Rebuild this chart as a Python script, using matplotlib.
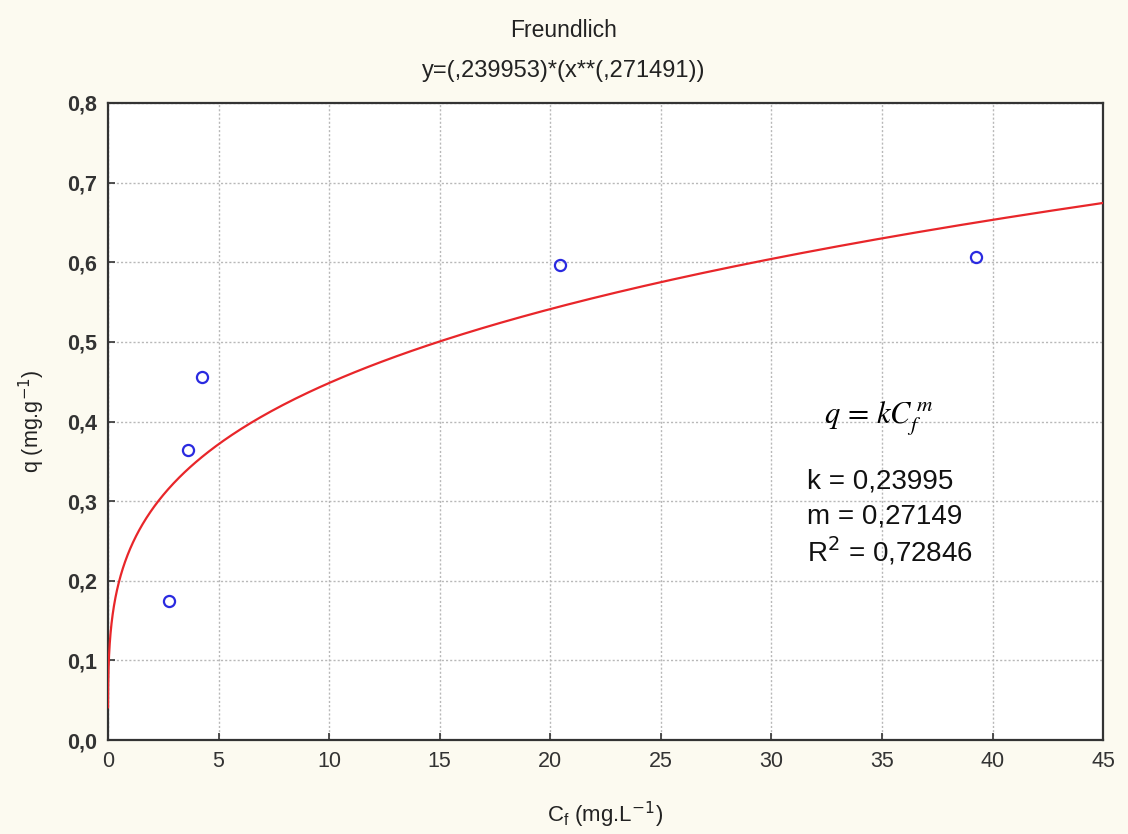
import numpy as np
import matplotlib
matplotlib.use("Agg")
import matplotlib.pyplot as plt
from matplotlib.ticker import FuncFormatter

# Data
cf_points = [2.75, 3.6, 4.25, 20.45, 39.25]
q_points = [0.174, 0.364, 0.456, 0.596, 0.607]
k_fit = 0.239953
m_fit = 0.271491
x_ticks = [0, 5, 10, 15, 20, 25, 30, 35, 40, 45]
y_ticks = [0.0, 0.1, 0.2, 0.3, 0.4, 0.5, 0.6, 0.7, 0.8]

plt.rcParams['font.family'] = ['Liberation Sans', 'DejaVu Sans']

fig = plt.figure(figsize=(11.28, 8.34), dpi=100, facecolor='#fcfaf0')
ax = fig.add_axes([0.0957, 0.1127, 0.8822, 0.7638])
ax.set_facecolor('white')

x_curve = np.geomspace(0.0015, 45, 600)
ax.plot(x_curve, k_fit * x_curve ** m_fit, color='#e8262a', lw=1.6, zorder=3)
ax.plot(cf_points, q_points, linestyle='none', marker='o', markersize=8,
        markerfacecolor='none', markeredgecolor='#2a2ae0', markeredgewidth=1.6, zorder=4)

ax.set_xlim(0, 45)
ax.set_ylim(0, 0.8)
ax.set_xticks(x_ticks)
ax.set_yticks(y_ticks)
ax.yaxis.set_major_formatter(FuncFormatter(lambda v, p: f"{v:.1f}".replace('.', ',')))
ax.grid(True, color='#b8b8b8', linestyle=(0, (1.5, 1.5)), linewidth=1.0)
ax.set_axisbelow(True)
for s in ax.spines.values():
    s.set_linewidth(1.6)
    s.set_color('#333333')
ax.tick_params(direction='in', length=5, width=1.2, labelsize=15.5, pad=8, colors='#333333')
for lab in ax.get_yticklabels():
    lab.set_fontweight('bold')

fig.text(0.5, 0.963, 'Freundlich', ha='center', va='center', fontsize=16.5, color='#222222')
fig.text(0.5, 0.915, 'y=(,239953)*(x**(,271491))', ha='center', va='center', fontsize=17, color='#222222')
ax.set_ylabel(r'q (mg.g$^{-1}$)', fontsize=15.5, labelpad=14, color='#222222')
ax.set_xlabel(r'C$_{\mathregular{f}}$ (mg.L$^{-1}$)', fontsize=16, labelpad=20, color='#222222')

ax.text(32.4, 0.403, r'$q\,=\,kC_f^{\,m}$', fontsize=22, family='Liberation Serif',
        math_fontfamily='stix', ha='left', va='center')
ax.text(31.6, 0.325, 'k = 0,23995', fontsize=20, ha='left', va='center', color='#111111')
ax.text(31.6, 0.281, 'm = 0,27149', fontsize=20, ha='left', va='center', color='#111111')
ax.text(31.6, 0.237, r'R$^2$ = 0,72846', fontsize=20, ha='left', va='center', color='#111111')

fig.savefig('out.png', dpi=100, facecolor=fig.get_facecolor())
